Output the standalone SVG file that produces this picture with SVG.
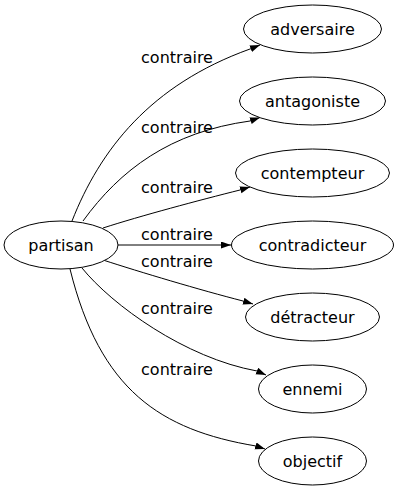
<svg xmlns="http://www.w3.org/2000/svg" width="401" height="491" viewBox="0 0 401 491">
<defs>
<style>
.n ellipse{fill:#fff;stroke:#000;stroke-width:1}
text{font-family:"DejaVu Sans",Verdana,sans-serif;font-size:16px;fill:#000;text-anchor:middle}
.e path{fill:none;stroke:#000;stroke-width:1;marker-end:url(#ah)}
</style>
<marker id="ah" markerUnits="userSpaceOnUse" markerWidth="10" markerHeight="8" refX="10" refY="3.5" orient="auto">
<path d="M0,0 L10,3.5 L0,7 Z" fill="#000"/>
</marker>
</defs>
<rect width="401" height="491" fill="#fff"/>
<g id="edges" class="e">
<path d="M72,221 C100,150 150,85 250,49 L260,45"/>
<path d="M83,221 C120,170 170,132 250,121 L260,117.5"/>
<path d="M103,228 C140,216 200,200 240,190 L250,187"/>
<path d="M117,245 L231,245"/>
<path d="M103,260 C140,272 200,290 243,301 L253,304"/>
<path d="M82,268 C112,305 185,358 257,371 L266,375"/>
<path d="M70,269 C100,390 160,430 256,446 L265,449"/>
</g>
<g id="edge-labels">
<text x="177" y="63">contraire</text>
<text x="177" y="133">contraire</text>
<text x="177" y="193">contraire</text>
<text x="177" y="240">contraire</text>
<text x="177" y="267">contraire</text>
<text x="177" y="314">contraire</text>
<text x="177" y="375">contraire</text>
</g>
<g id="partisan" class="n"><ellipse cx="61" cy="245" rx="57" ry="24"/><text x="61" y="251">partisan</text></g>
<g id="adversaire" class="n"><ellipse cx="312.5" cy="29" rx="69" ry="24"/><text x="312.5" y="35">adversaire</text></g>
<g id="antagoniste" class="n"><ellipse cx="312.5" cy="101" rx="73" ry="24"/><text x="312.5" y="107">antagoniste</text></g>
<g id="contempteur" class="n"><ellipse cx="312.5" cy="173" rx="77" ry="24"/><text x="312.5" y="179">contempteur</text></g>
<g id="contradicteur" class="n"><ellipse cx="312.5" cy="245" rx="81" ry="24"/><text x="312.5" y="251">contradicteur</text></g>
<g id="detracteur" class="n"><ellipse cx="312.5" cy="317" rx="67" ry="24"/><text x="312.5" y="323">détracteur</text></g>
<g id="ennemi" class="n"><ellipse cx="312.5" cy="389" rx="54" ry="24"/><text x="312.5" y="395">ennemi</text></g>
<g id="objectif" class="n"><ellipse cx="312.5" cy="461" rx="54" ry="24"/><text x="312.5" y="467">objectif</text></g>
</svg>
